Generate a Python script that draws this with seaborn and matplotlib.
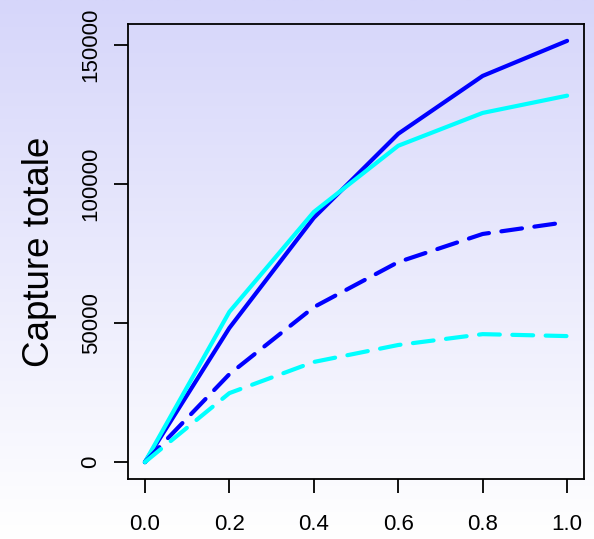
import numpy as np
import pandas as pd
import matplotlib
matplotlib.use("Agg")
import matplotlib.pyplot as plt
import seaborn as sns

x_vals = [0.0, 0.2, 0.4, 0.6, 0.8, 1.0]
blue_solid = [0, 48200, 87800, 118000, 138800, 151400]
cyan_solid = [0, 54000, 89900, 113700, 125500, 131700]
blue_dashed = [0, 31600, 55700, 71900, 82000, 86300]
cyan_dashed = [0, 24800, 36000, 42100, 46000, 45300]
x_ticks = [0.0, 0.2, 0.4, 0.6, 0.8, 1.0]
x_ticklabels = ["0.0", "0.2", "0.4", "0.6", "0.8", "1.0"]
y_ticks = [0, 50000, 100000, 150000]
y_ticklabels = ["0", "50000", "100000", "150000"]
y_label = "Capture totale"

sns.set_theme(style="white")
plt.rcParams['font.family'] = ['Liberation Sans', 'DejaVu Sans']

fig = plt.figure(figsize=(5.94, 5.39), dpi=100)

# gradient background
bg = fig.add_axes([0, 0, 1, 1], zorder=-10)
grad = np.linspace(0, 1, 256)[:, None]
top = np.array([214, 214, 250]) / 255.0
bot = np.array([255, 255, 255]) / 255.0
img = top[None, None, :] * (1 - grad[:, :, None]) + bot[None, None, :] * grad[:, :, None]
bg.imshow(img, aspect='auto', extent=[0, 1, 0, 1], origin='upper')
bg.set_axis_off()

ax = fig.add_axes([128/594, 1-479/539, (584-128)/594, (479-24)/539])
ax.patch.set_alpha(0)

series = [
    (blue_solid, "#0000FF", "-"),
    (cyan_solid, "#00FFFF", "-"),
    (blue_dashed, "#0000FF", "--"),
    (cyan_dashed, "#00FFFF", "--"),
]
for vals, col, ls in series:
    df = pd.DataFrame({"x": x_vals, "y": vals})
    sns.lineplot(data=df, x="x", y="y", ax=ax, color=col, linewidth=3.0,
                 linestyle=ls, legend=False)
for line in ax.get_lines():
    line.set_solid_capstyle('round')
    line.set_dash_capstyle('round')
    if line.get_linestyle() == '--':
        line.set_dashes((5, 3))

ax.set_xlim(-0.04, 1.04)
ymax = 151400
ax.set_ylim(-0.04 * ymax, 1.04 * ymax)
ax.set_xticks(x_ticks)
ax.set_xticklabels(x_ticklabels)
ax.set_yticks(y_ticks)
ax.set_yticklabels(y_ticklabels, rotation=90, va='center')
ax.tick_params(axis='both', direction='out', length=10, width=1.3, colors='black',
               labelsize=16, left=True, bottom=True)
ax.tick_params(axis='x', pad=15)
ax.tick_params(axis='y', pad=9)
for sp in ax.spines.values():
    sp.set_visible(True)
    sp.set_color('black')
    sp.set_linewidth(1.3)
ax.set_xlabel("")
ax.set_ylabel(y_label, fontsize=26.5, color='black')
ax.yaxis.set_label_coords(-0.155, 0.5)

fig.savefig("out.png", dpi=100)
